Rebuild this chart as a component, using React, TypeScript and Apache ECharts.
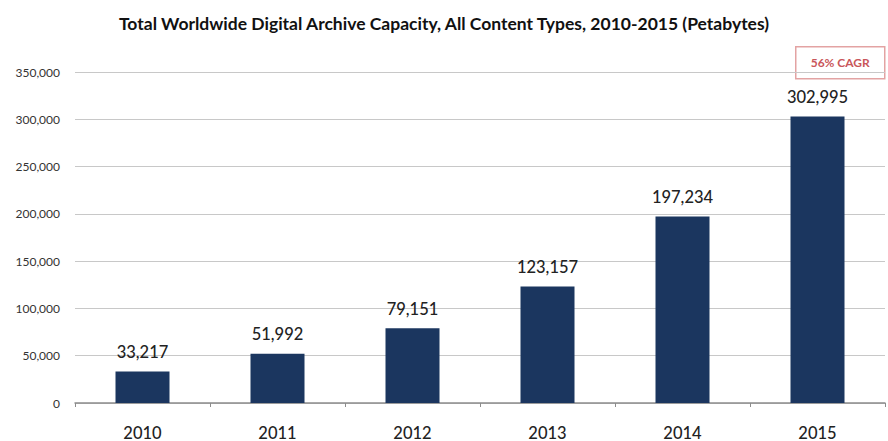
import React, { useEffect, useRef } from "react";
import * as echarts from "echarts";

const categories = ["2010", "2011", "2012", "2013", "2014", "2015"];
const capacity = [33217, 51992, 79151, 123157, 197234, 302995];
const yTicks = [0, 50000, 100000, 150000, 200000, 250000, 300000, 350000];
const titleText = "Total Worldwide Digital Archive Capacity, All Content Types, 2010-2015 (Petabytes)";
const cagrText = "56% CAGR";

const fmt = (v: number) => v.toLocaleString("en-US");

export default function App() {
  const ref = useRef<HTMLDivElement>(null);
  useEffect(() => {
    if (!ref.current) return;
    const chart = echarts.init(ref.current, null, { renderer: "svg" });
    chart.setOption({
      animation: false,
      backgroundColor: "#ffffff",
      title: {
        text: titleText,
        left: "center",
        top: 9,
        textStyle: { fontFamily: "Lato", fontWeight: "bold", fontSize: 17.5, color: "#111111" },
      },
      grid: { left: 75, right: 3, top: 72, bottom: 37 },
      xAxis: {
        type: "category",
        data: categories,
        axisLine: { lineStyle: { color: "#8c8c8c", width: 1.5 } },
        axisTick: { show: true, alignWithLabel: false, length: 4, lineStyle: { color: "#8c8c8c" } },
        axisLabel: { fontFamily: "Lato", fontSize: 16.5, fontWeight: 500, color: "#222222", margin: 21 },
      },
      yAxis: {
        type: "value",
        min: yTicks[0],
        max: yTicks[yTicks.length - 1],
        interval: 50000,
        axisLine: { show: false },
        axisTick: { show: false },
        splitLine: { lineStyle: { color: "#c8c8c8", width: 1.2 } },
        axisLabel: {
          fontFamily: "Lato",
          fontSize: 12,
          color: "#333333",
          margin: 15,
          formatter: (v: number) => fmt(v),
        },
      },
      series: [
        {
          type: "bar",
          data: capacity,
          barWidth: "40%",
          itemStyle: { color: "#1b365f" },
          label: {
            show: true,
            position: "top",
            distance: 11,
            fontFamily: "Lato",
            fontSize: 16.5,
            fontWeight: 500,
            color: "#222222",
            formatter: (p: any) => fmt(p.value),
          },
        },
      ],
      graphic: [
        {
          type: "group",
          left: 795,
          top: 46,
          z: 100,
          children: [
            {
              type: "rect",
              shape: { x: 0, y: 0, width: 89, height: 32 },
              style: { fill: "#ffffff", stroke: "#e3a3a3", lineWidth: 1.5 },
            },
            {
              type: "text",
              x: 44.5,
              y: 16,
              style: {
                text: cagrText,
                fill: "#c9565a",
                font: "bold 12px Lato",
                align: "center",
                verticalAlign: "middle",
              },
            },
          ],
        },
      ],
    });
    return () => chart.dispose();
  }, []);
  return <div ref={ref} style={{ width: 888, height: 441, position: "absolute", left: 0, top: 0 }} />;
}
